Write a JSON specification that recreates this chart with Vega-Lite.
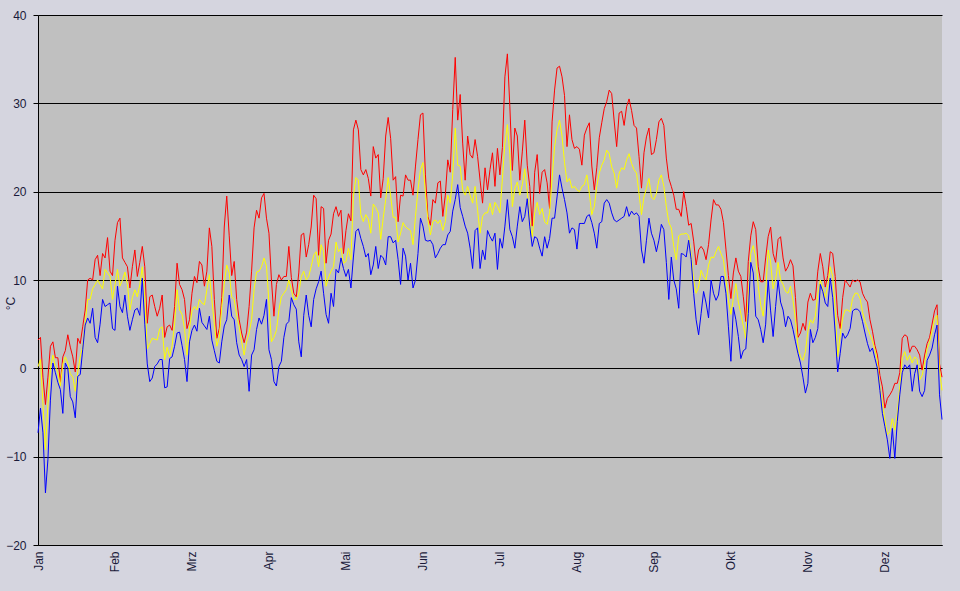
{
"$schema":"https://vega.github.io/schema/vega-lite/v6.json",
"width":904,"height":530,
"autosize":{"type":"none"},
"padding":{"left":38,"top":15,"right":18,"bottom":46},
"background":"#d5d5df",
"config":{"view":{"fill":"#c0c0c0","stroke":null},"font":"Liberation Sans"},
"data":{"values":[
{"d":0,"hi":3.2,"av":0.2,"lo":-7.3},{"d":1,"hi":3.5,"av":1,"lo":-4.5},{"d":2,"hi":-1,"av":-4,"lo":-7.3},{"d":3,"hi":-4.1,"av":-9.2,"lo":-14.1},{"d":4,"hi":-1,"av":-4,"lo":-10.3},{"d":5,"hi":2.5,"av":0,"lo":-3.6},{"d":6,"hi":3,"av":1.5,"lo":0.6},{"d":7,"hi":1.2,"av":0.2,"lo":-0.5},{"d":8,"hi":1.2,"av":-0.5,"lo":-1.6},{"d":9,"hi":-1.6,"av":-2,"lo":-2.4},
{"d":10,"hi":1.3,"av":0.5,"lo":-5.1},{"d":11,"hi":2,"av":1.3,"lo":0.6},{"d":12,"hi":3.8,"av":0.6,"lo":0},{"d":13,"hi":2.4,"av":-0.6,"lo":-3.2},{"d":14,"hi":1.3,"av":-1,"lo":-3.8},{"d":15,"hi":-0.4,"av":-2.6,"lo":-5.6},{"d":16,"hi":3.4,"av":-0.4,"lo":-0.9},{"d":17,"hi":2.8,"av":1.3,"lo":-0.7},{"d":18,"hi":4.7,"av":2.5,"lo":2.1},{"d":19,"hi":6.6,"av":5.1,"lo":4.9},
{"d":20,"hi":10,"av":7.8,"lo":5.7},{"d":21,"hi":10.2,"av":7.8,"lo":5.1},{"d":22,"hi":10,"av":9,"lo":6.8},{"d":23,"hi":12.3,"av":9.5,"lo":3.5},{"d":24,"hi":12.8,"av":10,"lo":2.9},{"d":25,"hi":10.5,"av":9.5,"lo":5},{"d":26,"hi":13,"av":9,"lo":7.8},{"d":27,"hi":12.5,"av":11.2,"lo":7},{"d":28,"hi":14.8,"av":10.8,"lo":7.2},{"d":29,"hi":11,"av":10.4,"lo":7.4},
{"d":30,"hi":10.5,"av":7.8,"lo":4.5},{"d":31,"hi":14.5,"av":9.5,"lo":4.3},{"d":32,"hi":16.5,"av":11.2,"lo":9.3},{"d":33,"hi":17,"av":9.3,"lo":7},{"d":34,"hi":12.5,"av":10,"lo":6.3},{"d":35,"hi":12,"av":10.9,"lo":8.3},{"d":36,"hi":11.5,"av":9.5,"lo":5.9},{"d":37,"hi":9.1,"av":6.6,"lo":4.3},{"d":38,"hi":11.5,"av":8,"lo":5.5},{"d":39,"hi":13.4,"av":8.9,"lo":6.6},
{"d":40,"hi":10.4,"av":8.1,"lo":6.8},{"d":41,"hi":12,"av":9.5,"lo":6},{"d":42,"hi":13.8,"av":11.5,"lo":10.2},{"d":43,"hi":11.5,"av":8,"lo":5},{"d":44,"hi":5.1,"av":2.2,"lo":0.5},{"d":45,"hi":8.1,"av":2.8,"lo":-1.5},{"d":46,"hi":8.3,"av":3.4,"lo":-1.1},{"d":47,"hi":7,"av":3.3,"lo":0.2},{"d":48,"hi":5.9,"av":3.2,"lo":0.5},{"d":49,"hi":6.8,"av":4.5,"lo":1},
{"d":50,"hi":8.3,"av":4.7,"lo":1},{"d":51,"hi":3.5,"av":1,"lo":-2.2},{"d":52,"hi":4.7,"av":2.4,"lo":-2.1},{"d":53,"hi":4.9,"av":1.3,"lo":1.1},{"d":54,"hi":4.3,"av":2.6,"lo":1.3},{"d":55,"hi":7,"av":5,"lo":2.5},{"d":56,"hi":11.9,"av":8.9,"lo":4},{"d":57,"hi":9.5,"av":6.6,"lo":4.1},{"d":58,"hi":8.9,"av":6.1,"lo":2.6},{"d":59,"hi":7.8,"av":4.5,"lo":1},
{"d":60,"hi":4.5,"av":1.5,"lo":-1.5},{"d":61,"hi":5.5,"av":4.5,"lo":3},{"d":62,"hi":8.5,"av":6.5,"lo":4.3},{"d":63,"hi":10.4,"av":7,"lo":4.9},{"d":64,"hi":9.7,"av":6.6,"lo":4.2},{"d":65,"hi":12.1,"av":7.8,"lo":6.8},{"d":66,"hi":11.7,"av":7.4,"lo":5.2},{"d":67,"hi":9.3,"av":7.2,"lo":4.8},{"d":68,"hi":11,"av":8.9,"lo":4.4},{"d":69,"hi":15.9,"av":10.6,"lo":5.9},
{"d":70,"hi":13.8,"av":7.8,"lo":3.2},{"d":71,"hi":7.8,"av":5,"lo":2},{"d":72,"hi":3.4,"av":2.5,"lo":0.8},{"d":73,"hi":4.5,"av":3.5,"lo":0.6},{"d":74,"hi":8,"av":7,"lo":3},{"d":75,"hi":16,"av":9.5,"lo":4.8},{"d":76,"hi":19.5,"av":11.7,"lo":5.5},{"d":77,"hi":15,"av":10.8,"lo":8.3},{"d":78,"hi":10.5,"av":8.1,"lo":5.9},{"d":79,"hi":12.1,"av":7.8,"lo":5.5},
{"d":80,"hi":7.8,"av":6,"lo":2.9},{"d":81,"hi":5.5,"av":4.7,"lo":1.5},{"d":82,"hi":4,"av":3,"lo":1},{"d":83,"hi":2.9,"av":1.5,"lo":0.2},{"d":84,"hi":4.1,"av":3,"lo":1},{"d":85,"hi":7,"av":4,"lo":-2.6},{"d":86,"hi":11,"av":5.5,"lo":1.5},{"d":87,"hi":15.9,"av":8.9,"lo":2.1},{"d":88,"hi":17.9,"av":10.9,"lo":4.4},{"d":89,"hi":17,"av":11,"lo":5.7},
{"d":90,"hi":19.3,"av":11.5,"lo":5},{"d":91,"hi":19.8,"av":12.5,"lo":6},{"d":92,"hi":17,"av":11.6,"lo":7.8},{"d":93,"hi":15.3,"av":7.4,"lo":2.1},{"d":94,"hi":10,"av":3,"lo":1},{"d":95,"hi":5.9,"av":3.5,"lo":-1.5},{"d":96,"hi":9.5,"av":4.3,"lo":-2},{"d":97,"hi":10.6,"av":6.6,"lo":0.2},{"d":98,"hi":10,"av":8.1,"lo":0.8},{"d":99,"hi":10.4,"av":8.5,"lo":3.5},
{"d":100,"hi":10.4,"av":8.9,"lo":5},{"d":101,"hi":13.8,"av":10,"lo":5.3},{"d":102,"hi":10.3,"av":8.9,"lo":8},{"d":103,"hi":8.5,"av":7.8,"lo":7.2},{"d":104,"hi":8.1,"av":7.8,"lo":6.7},{"d":105,"hi":10.8,"av":8.5,"lo":3},{"d":106,"hi":15.1,"av":10.4,"lo":1.3},{"d":107,"hi":15.3,"av":11,"lo":6},{"d":108,"hi":12.6,"av":10,"lo":8.3},{"d":109,"hi":14,"av":10.4,"lo":6},
{"d":110,"hi":16,"av":11.5,"lo":4.7},{"d":111,"hi":19.6,"av":12.8,"lo":7.8},{"d":112,"hi":19.2,"av":13.2,"lo":9},{"d":113,"hi":12.8,"av":11.5,"lo":9.8},{"d":114,"hi":18.3,"av":14,"lo":11},{"d":115,"hi":18.1,"av":13.2,"lo":8.5},{"d":116,"hi":11.9,"av":9.3,"lo":6.1},{"d":117,"hi":14.5,"av":10.3,"lo":5.1},{"d":118,"hi":15.2,"av":11,"lo":8.5},{"d":119,"hi":17.5,"av":11.5,"lo":7},
{"d":120,"hi":18.3,"av":14.3,"lo":11.2},{"d":121,"hi":17.2,"av":13.2,"lo":10.8},{"d":122,"hi":17.9,"av":13.6,"lo":12.5},{"d":123,"hi":13,"av":11.9,"lo":11.3},{"d":124,"hi":15.6,"av":12.1,"lo":10.4},{"d":125,"hi":17.5,"av":13.6,"lo":11.2},{"d":126,"hi":16.7,"av":12.3,"lo":9.1},{"d":127,"hi":27,"av":19.5,"lo":12.6},{"d":128,"hi":28.1,"av":21.6,"lo":15.5},{"d":129,"hi":27,"av":21.3,"lo":15.8},
{"d":130,"hi":22.5,"av":17.4,"lo":14.7},{"d":131,"hi":21.9,"av":16.6,"lo":13.8},{"d":132,"hi":22.5,"av":17.4,"lo":12.6},{"d":133,"hi":21.5,"av":16.9,"lo":13},{"d":134,"hi":19.5,"av":15.3,"lo":10.6},{"d":135,"hi":25.1,"av":18.6,"lo":11.7},{"d":136,"hi":23.8,"av":18.2,"lo":13.8},{"d":137,"hi":24.2,"av":17.6,"lo":11.3},{"d":138,"hi":19.3,"av":14.6,"lo":12.8},{"d":139,"hi":21.5,"av":17,"lo":12.5},
{"d":140,"hi":26.3,"av":19.1,"lo":11.7},{"d":141,"hi":28.4,"av":21.6,"lo":14.9},{"d":142,"hi":26,"av":19.5,"lo":14.9},{"d":143,"hi":21.3,"av":17.1,"lo":14.2},{"d":144,"hi":21.7,"av":17.1,"lo":14.5},{"d":145,"hi":16.6,"av":14.3,"lo":12.3},{"d":146,"hi":19.6,"av":15.3,"lo":9.5},{"d":147,"hi":19.5,"av":16.5,"lo":13.6},{"d":148,"hi":21.9,"av":16,"lo":12.7},{"d":149,"hi":21.3,"av":15.8,"lo":10},
{"d":150,"hi":21.3,"av":15.6,"lo":11.9},{"d":151,"hi":19.6,"av":14,"lo":9.1},{"d":152,"hi":22.9,"av":17.2,"lo":10},{"d":153,"hi":25.9,"av":20.2,"lo":13},{"d":154,"hi":28.7,"av":22.5,"lo":17},{"d":155,"hi":28.9,"av":23.3,"lo":16.1},{"d":156,"hi":21.9,"av":19.8,"lo":14.5},{"d":157,"hi":17.2,"av":16.8,"lo":14.4},{"d":158,"hi":16.2,"av":15.1,"lo":14.5},{"d":159,"hi":19.1,"av":16.6,"lo":14},
{"d":160,"hi":18.7,"av":16.8,"lo":12.5},{"d":161,"hi":21,"av":16.4,"lo":13},{"d":162,"hi":21.2,"av":16.8,"lo":13.6},{"d":163,"hi":17.2,"av":15.6,"lo":14},{"d":164,"hi":19.6,"av":16.6,"lo":14},{"d":165,"hi":23.6,"av":19.6,"lo":15.1},{"d":166,"hi":22.2,"av":18.7,"lo":15.5},{"d":167,"hi":29.3,"av":22,"lo":17.8},{"d":168,"hi":35.2,"av":27.2,"lo":19.1},{"d":169,"hi":28.1,"av":23,"lo":20.8},
{"d":170,"hi":31,"av":22.9,"lo":18.2},{"d":171,"hi":25.5,"av":20.2,"lo":17.2},{"d":172,"hi":21.3,"av":19.6,"lo":16.1},{"d":173,"hi":26.3,"av":20.6,"lo":15.3},{"d":174,"hi":24.2,"av":19.6,"lo":13.6},{"d":175,"hi":23.8,"av":18.7,"lo":11.3},{"d":176,"hi":25.9,"av":20.6,"lo":15.6},{"d":177,"hi":24,"av":17.9,"lo":15.9},{"d":178,"hi":21.3,"av":15.3,"lo":11.3},{"d":179,"hi":18.7,"av":17.2,"lo":13.4},
{"d":180,"hi":22.7,"av":17.6,"lo":12.3},{"d":181,"hi":20.2,"av":17.6,"lo":15.6},{"d":182,"hi":22.5,"av":18.7,"lo":14.9},{"d":183,"hi":24.4,"av":17.4,"lo":14.4},{"d":184,"hi":20.6,"av":18.8,"lo":15.3},{"d":185,"hi":24.9,"av":18.3,"lo":11.2},{"d":186,"hi":21.9,"av":17.6,"lo":14.7},{"d":187,"hi":25,"av":21.5,"lo":13.6},{"d":188,"hi":33,"av":25.5,"lo":16.1},{"d":189,"hi":35.6,"av":27.6,"lo":19.1},
{"d":190,"hi":29.6,"av":24.2,"lo":15.7},{"d":191,"hi":22.4,"av":18.3,"lo":14.9},{"d":192,"hi":27.2,"av":20.4,"lo":13.6},{"d":193,"hi":26.3,"av":21.1,"lo":16.1},{"d":194,"hi":21.3,"av":19.6,"lo":18.3},{"d":195,"hi":24.5,"av":20.8,"lo":16.6},{"d":196,"hi":28.1,"av":22.6,"lo":17.2},{"d":197,"hi":23,"av":20,"lo":19.2},{"d":198,"hi":20.6,"av":16.8,"lo":16.1},{"d":199,"hi":16.1,"av":14.9,"lo":13.8},
{"d":200,"hi":22.2,"av":17.6,"lo":14.9},{"d":201,"hi":24.2,"av":18.8,"lo":14.7},{"d":202,"hi":19.8,"av":17.4,"lo":13.6},{"d":203,"hi":22.2,"av":18.1,"lo":12.7},{"d":204,"hi":22.5,"av":16.6,"lo":14.9},{"d":205,"hi":21,"av":16.3,"lo":13.6},{"d":206,"hi":18.1,"av":17.6,"lo":14.7},{"d":207,"hi":27.9,"av":21.5,"lo":17},{"d":208,"hi":31.5,"av":25.1,"lo":17},{"d":209,"hi":34,"av":27,"lo":19.4},
{"d":210,"hi":34.2,"av":28.1,"lo":21.9},{"d":211,"hi":33,"av":26.3,"lo":20.4},{"d":212,"hi":30.9,"av":23.3,"lo":19.1},{"d":213,"hi":25.1,"av":21.1,"lo":17.6},{"d":214,"hi":28.7,"av":21.5,"lo":15.3},{"d":215,"hi":25.9,"av":20.4,"lo":15.9},{"d":216,"hi":24.9,"av":20.6,"lo":15.7},{"d":217,"hi":25.1,"av":20.2,"lo":13.5},{"d":218,"hi":24.8,"av":20,"lo":16.4},{"d":219,"hi":23,"av":20.6,"lo":16.4},
{"d":220,"hi":26.4,"av":20.8,"lo":16.4},{"d":221,"hi":27.2,"av":21.9,"lo":17.2},{"d":222,"hi":27.8,"av":19.8,"lo":17.4},{"d":223,"hi":22.9,"av":17.4,"lo":16.5},{"d":224,"hi":20.2,"av":18.3,"lo":15.3},{"d":225,"hi":22.7,"av":20.6,"lo":13.6},{"d":226,"hi":26.1,"av":22.1,"lo":16.4},{"d":227,"hi":27.8,"av":23,"lo":16.6},{"d":228,"hi":29.4,"av":23.6,"lo":18.7},{"d":229,"hi":30.2,"av":24.7,"lo":19.1},
{"d":230,"hi":31.5,"av":24.3,"lo":18.7},{"d":231,"hi":31.1,"av":22.8,"lo":17.6},{"d":232,"hi":28,"av":22.1,"lo":16.8},{"d":233,"hi":25.1,"av":20.4,"lo":16.6},{"d":234,"hi":28.9,"av":22.1,"lo":16.8},{"d":235,"hi":29.1,"av":22.7,"lo":17},{"d":236,"hi":27.5,"av":22.5,"lo":17.2},{"d":237,"hi":29.6,"av":23.6,"lo":18.3},{"d":238,"hi":30.5,"av":24.3,"lo":17.2},{"d":239,"hi":29.2,"av":23.2,"lo":17.8},
{"d":240,"hi":27.5,"av":22.5,"lo":17.4},{"d":241,"hi":27.2,"av":22.1,"lo":17.6},{"d":242,"hi":24,"av":19.8,"lo":17.2},{"d":243,"hi":20.4,"av":17.4,"lo":13.4},{"d":244,"hi":24.4,"av":19.4,"lo":11.9},{"d":245,"hi":26.2,"av":20.4,"lo":14.5},{"d":246,"hi":27.2,"av":21.5,"lo":17},{"d":247,"hi":24.2,"av":19.4,"lo":15.3},{"d":248,"hi":24.4,"av":19.1,"lo":14.5},{"d":249,"hi":25.9,"av":19.8,"lo":13.2},
{"d":250,"hi":27.9,"av":21.3,"lo":14.5},{"d":251,"hi":28.3,"av":21.9,"lo":16.3},{"d":252,"hi":27.5,"av":20.6,"lo":15.7},{"d":253,"hi":23.8,"av":18.3,"lo":12},{"d":254,"hi":21.5,"av":16.5,"lo":7.8},{"d":255,"hi":20.6,"av":15.9,"lo":12.6},{"d":256,"hi":19.6,"av":13.8,"lo":10},{"d":257,"hi":18,"av":12.3,"lo":9},{"d":258,"hi":18,"av":15,"lo":6.8},{"d":259,"hi":17.2,"av":15.2,"lo":13},
{"d":260,"hi":20,"av":15.2,"lo":12.9},{"d":261,"hi":18.3,"av":15.3,"lo":12.6},{"d":262,"hi":16.2,"av":15,"lo":14.5},{"d":263,"hi":16.4,"av":12.9,"lo":12.3},{"d":264,"hi":14.4,"av":10,"lo":8.5},{"d":265,"hi":11.7,"av":8.5,"lo":5.5},{"d":266,"hi":13.4,"av":9.2,"lo":3.8},{"d":267,"hi":13.8,"av":11.1,"lo":6.2},{"d":268,"hi":13.4,"av":10.4,"lo":8.7},{"d":269,"hi":12.3,"av":10,"lo":7.4},
{"d":270,"hi":14,"av":11.7,"lo":5.7},{"d":271,"hi":16.8,"av":12.6,"lo":10},{"d":272,"hi":19.1,"av":12.5,"lo":8.5},{"d":273,"hi":18.5,"av":13.2,"lo":7.7},{"d":274,"hi":18.5,"av":13.8,"lo":8.3},{"d":275,"hi":18,"av":13,"lo":10.4},{"d":276,"hi":16.5,"av":12.3,"lo":10.4},{"d":277,"hi":13.5,"av":10,"lo":8.5},{"d":278,"hi":10.5,"av":7.7,"lo":4.7},{"d":279,"hi":7.9,"av":6.1,"lo":0.8},
{"d":280,"hi":10.8,"av":7.9,"lo":6.9},{"d":281,"hi":12.5,"av":9.6,"lo":5.5},{"d":282,"hi":11,"av":7.5,"lo":3.6},{"d":283,"hi":10.4,"av":6.2,"lo":1.1},{"d":284,"hi":8.1,"av":4.8,"lo":2},{"d":285,"hi":5.3,"av":3.4,"lo":2.2},{"d":286,"hi":12.1,"av":8.1,"lo":6.2},{"d":287,"hi":15,"av":13,"lo":12},{"d":288,"hi":16.6,"av":13.9,"lo":10.8},{"d":289,"hi":15.7,"av":12.6,"lo":5.9},
{"d":290,"hi":11.5,"av":9.3,"lo":5.5},{"d":291,"hi":9.8,"av":7.2,"lo":4.4},{"d":292,"hi":9.8,"av":5.9,"lo":2.9},{"d":293,"hi":12.5,"av":8.7,"lo":5},{"d":294,"hi":14.9,"av":13.4,"lo":10},{"d":295,"hi":16,"av":12,"lo":6.5},{"d":296,"hi":13,"av":9,"lo":3.6},{"d":297,"hi":12,"av":10,"lo":7},{"d":298,"hi":14.6,"av":12,"lo":10},{"d":299,"hi":14.9,"av":10,"lo":7.5},
{"d":300,"hi":12.5,"av":9.5,"lo":6.6},{"d":301,"hi":11,"av":8.7,"lo":4.7},{"d":302,"hi":11.5,"av":8.5,"lo":5.9},{"d":303,"hi":12.3,"av":9.3,"lo":5.5},{"d":304,"hi":11.6,"av":7.7,"lo":4.4},{"d":305,"hi":8,"av":5.5,"lo":3},{"d":306,"hi":3.5,"av":2.5,"lo":1.7},{"d":307,"hi":4,"av":1.3,"lo":0.6},{"d":308,"hi":5.1,"av":0.9,"lo":-1},{"d":309,"hi":4.3,"av":1.9,"lo":-2.8},
{"d":310,"hi":7.5,"av":4.2,"lo":-1.7},{"d":311,"hi":8.5,"av":5.5,"lo":4.4},{"d":312,"hi":7.7,"av":5.1,"lo":2.9},{"d":313,"hi":7.8,"av":5.9,"lo":3.5},{"d":314,"hi":11,"av":8.5,"lo":4.5},{"d":315,"hi":13,"av":10,"lo":9.5},{"d":316,"hi":11.5,"av":9,"lo":8.7},{"d":317,"hi":9.2,"av":8,"lo":7.4},{"d":318,"hi":10.5,"av":9.3,"lo":7},{"d":319,"hi":13.2,"av":11.5,"lo":10.2},
{"d":320,"hi":13,"av":10.4,"lo":8},{"d":321,"hi":10.4,"av":6.6,"lo":4},{"d":322,"hi":6,"av":1.3,"lo":-0.4},{"d":323,"hi":4.5,"av":3.8,"lo":1.7},{"d":324,"hi":8,"av":5.7,"lo":4},{"d":325,"hi":10,"av":6.6,"lo":3.4},{"d":326,"hi":9.6,"av":6.6,"lo":3.8},{"d":327,"hi":9.2,"av":6.4,"lo":4.5},{"d":328,"hi":10,"av":7.9,"lo":6.5},{"d":329,"hi":9.8,"av":8.5,"lo":6.7},
{"d":330,"hi":10,"av":8.5,"lo":6.7},{"d":331,"hi":9.8,"av":7.9,"lo":6.4},{"d":332,"hi":8.5,"av":6.4,"lo":5.3},{"d":333,"hi":7.9,"av":5.3,"lo":4},{"d":334,"hi":7.5,"av":4.6,"lo":2.8},{"d":335,"hi":5.5,"av":3.8,"lo":1.9},{"d":336,"hi":4.2,"av":3.1,"lo":2.3},{"d":337,"hi":2.6,"av":2.1,"lo":1.1},{"d":338,"hi":1.5,"av":0.8,"lo":0},{"d":339,"hi":-0.8,"av":-2.1,"lo":-2.5},
{"d":340,"hi":-2.1,"av":-4,"lo":-5.1},{"d":341,"hi":-4.5,"av":-5.8,"lo":-6.6},{"d":342,"hi":-3.4,"av":-7.5,"lo":-8.1},{"d":343,"hi":-3,"av":-7.2,"lo":-10.2},{"d":344,"hi":-2.5,"av":-5.7,"lo":-6.8},{"d":345,"hi":-1.7,"av":-7,"lo":-10.2},{"d":346,"hi":-1.7,"av":-5.1,"lo":-6},{"d":347,"hi":-0.5,"av":-2.1,"lo":-3},{"d":348,"hi":3.4,"av":1.2,"lo":-0.5},{"d":349,"hi":3.8,"av":1.9,"lo":0.4},
{"d":350,"hi":3.6,"av":0.9,"lo":0},{"d":351,"hi":1.8,"av":1.5,"lo":0.4},{"d":352,"hi":2.5,"av":0.6,"lo":-2.6},{"d":353,"hi":2.5,"av":1.3,"lo":-0.6},{"d":354,"hi":2.1,"av":1,"lo":0.4},{"d":355,"hi":1.5,"av":-1.3,"lo":-2.6},{"d":356,"hi":-0.2,"av":-0.8,"lo":-3.2},{"d":357,"hi":1.5,"av":0.6,"lo":-2.5},{"d":358,"hi":2.8,"av":2.2,"lo":0.9},{"d":359,"hi":3.5,"av":3,"lo":1.5},
{"d":360,"hi":5,"av":4.2,"lo":2.3},{"d":361,"hi":6.5,"av":5.5,"lo":3.8},{"d":362,"hi":7.2,"av":6,"lo":4.9},{"d":363,"hi":0.5,"av":-0.2,"lo":-3},{"d":364,"hi":-1,"av":-2.5,"lo":-5.8}
]},
"transform":[{"fold":["hi","av","lo"],"as":["serie","temp"]}],
"mark":{"type":"line","strokeWidth":1},
"encoding":{
"x":{"field":"d","type":"quantitative","scale":{"domain":[0,364],"nice":false,"zero":false},
"axis":{"values":[0,31,62,93,124,155,186,217,248,279,310,341],"labelExpr":"['Jan','Feb','Mrz','Apr','Mai','Jun','Jul','Aug','Sep','Okt','Nov','Dez'][round(datum.value/31)]","labelAngle":-90,"ticks":false,"grid":false,"domainColor":"#000000","domainWidth":1,"labelFontSize":12,"labelColor":"#1a1a3a","labelPadding":6,"labelFlush":false,"labelOverlap":false,"title":null}},
"y":{"field":"temp","type":"quantitative","scale":{"domain":[-20,40],"nice":false,"zero":false},
"axis":{"values":[-20,-10,0,10,20,30,40],"grid":true,"gridColor":"#000000","gridOpacity":1,"gridWidth":1,"domainColor":"#000000","domainWidth":1,"tickColor":"#000000","tickSize":5,"tickWidth":1,"labelFontSize":12,"labelColor":"#1a1a3a","labelPadding":7,"title":"°C","titleFontSize":12,"titleFontWeight":"normal","titleColor":"#1a1a3a","titleX":-28,"titleY":288,"titleAngle":-90,"titleAlign":"center","titleBaseline":"middle"}},
"color":{"field":"serie","type":"nominal","scale":{"domain":["hi","av","lo"],"range":["#ff0000","#ffff00","#0000ff"]},"legend":null},
"order":{"field":"d","type":"quantitative"}
}
}
